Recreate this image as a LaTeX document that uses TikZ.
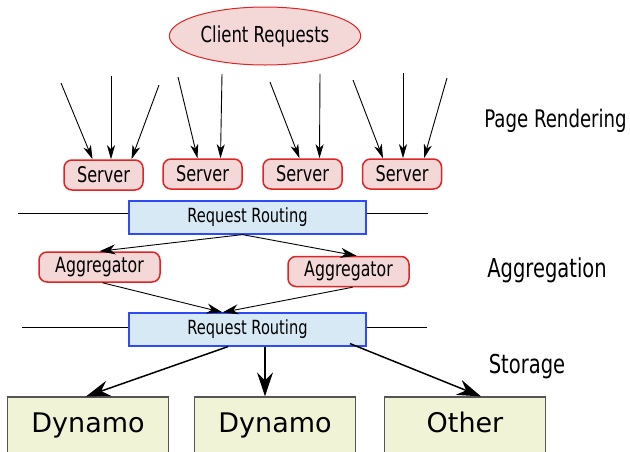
\documentclass[tikz,border=0pt]{standalone}
\usepackage{fontspec}
\setmainfont{DejaVu Sans}
\newfontfamily\narrowfont[FakeStretch=0.75]{DejaVu Sans}
\usetikzlibrary{
  positioning,
  arrows.meta,
  shapes.geometric
}
\definecolor{pinkfill}{HTML}{F4D7D7}
\definecolor{redline}{HTML}{E02424}
\definecolor{bluefill}{HTML}{D7E9F4}
\definecolor{blueline}{HTML}{2E4BF5}
\definecolor{olivefill}{HTML}{F1F3D7}
\definecolor{greyline}{HTML}{555555}

\begin{document}
\begin{tikzpicture}[x=1pt,y=-1pt]
			\tikzset{
			srv/.style={
					rectangle, draw=redline, fill=pinkfill, line width=1.5pt,
					minimum height=30pt, minimum width=79pt, inner sep=0pt,
					rounded corners=8pt, font=\narrowfont\fontsize{21.5}{23}\selectfont,
				},
			agg/.style={srv, minimum width=121pt, font=\narrowfont\fontsize{21}{23}\selectfont},
			route/.style={
					rectangle, draw=blueline, fill=bluefill, line width=1.2pt,
					minimum height=33pt, minimum width=237pt, inner sep=0pt,
					font=\narrowfont\fontsize{19.5}{22}\selectfont,
				},
			store/.style={
					rectangle, draw=greyline, fill=olivefill, line width=1.2pt,
					minimum height=62pt, minimum width=161pt, inner sep=0pt,
					text height=20pt, text depth=12pt,
					font=\fontsize{27}{30}\selectfont,
				},
			tier/.style={font=\narrowfont\fontsize{26}{28}\selectfont},
			rel/.style={
			->, >={Stealth[length=14pt, width=8pt, inset=4pt]}, line width=0.9pt, },
			midrel/.style={
			rel, >={Stealth[length=16pt, width=10pt, inset=5pt]}, },
			bigrel/.style={
			rel, >={Stealth[length=24pt, width=16pt, inset=8pt]}, line width=1.5pt, },
			}
			\useasboundingbox (0,0) rectangle (630,451);
			\node[ellipse, draw=redline, fill=pinkfill, line width=1pt,
				minimum width=190pt, minimum height=58pt,
				font=\narrowfont\fontsize{22}{24}\selectfont] (client) at (265,36) {Client Requests};

			% page rendering
			\node[srv] (srvA) at (103.5,175) {Server};
			\node[srv] (srvB) at (202.5,174) {Server};
			\node[srv] (srvC) at (302.5,174) {Server};
			\node[srv] (srvD) at (402,174) {Server};

			\coordinate (inA1) at (61,83);
			\coordinate (inA2) at (111,76);
			\coordinate (inA3) at (159,85);
			\coordinate (inB1) at (178,77);
			\coordinate (inB2) at (222,74);
			\coordinate (inC1) at (270,82);
			\coordinate (inC2) at (320,74);
			\coordinate (inD1) at (353,80);
			\coordinate (inD2) at (403,73);
			\coordinate (inD3) at (447,78);

			\draw[rel] (inA1) -- ([xshift=-11pt]srvA.north);
			\draw[rel] (inA2) -- ([xshift=7.5pt]srvA.north);
			\draw[rel] (inA3) -- ([xshift=28pt]srvA.north);
			\draw[rel] (inB1) -- ([xshift=-5pt]srvB.north);
			\draw[rel] (inB2) -- ([xshift=18pt]srvB.north);
			\draw[rel] (inC1) -- ([xshift=-3pt]srvC.north);
			\draw[rel] (inC2) -- ([xshift=17pt]srvC.north);
			\draw[rel] (inD1) -- ([xshift=-19pt]srvD.north);
			\draw[rel] (inD2) -- ([xshift=1pt]srvD.north);
			\draw[rel] (inD3) -- ([xshift=22pt]srvD.north);

			% aggregation
			\node[route] (routeTop) at (247.5,217.5) {Request Routing};
			\coordinate (edgeTopL) at (18,213);
			\coordinate (edgeTopR) at (428,213);
			\draw[line width=1pt] (routeTop.west |- edgeTopL) -- (edgeTopL);
			\draw[line width=1pt] (routeTop.east |- edgeTopR) -- (edgeTopR);

			\node[agg] (aggL) at (99.5,267) {Aggregator};
			\node[agg] (aggR) at (348.5,271.5) {Aggregator};

			\draw[midrel] ([xshift=-5pt]routeTop.south) -- ([xshift=0pt]aggL.north);
			\draw[midrel] ([xshift=-5pt]routeTop.south) -- ([xshift=8pt]aggR.north);

			% storage
			\node[route] (routeBot) at (247.5,329.5) {Request Routing};
			\coordinate (edgeBotL) at (22,327);
			\coordinate (edgeBotR) at (427,327);
			\draw[line width=1pt] (routeBot.west |- edgeBotL) -- (edgeBotL);
			\draw[line width=1pt] (routeBot.east |- edgeBotR) -- (edgeBotR);

			\draw[midrel] ([xshift=3pt]aggL.south) -- ([xshift=-25pt]routeBot.north);
			\draw[midrel] ([xshift=4pt]aggR.south) -- ([xshift=-25pt]routeBot.north);

			\node[store] (dynA) at (88,428) {Dynamo};
			\node[store] (dynB) at (275,428) {Dynamo};
			\node[store] (other) at (465,428) {Other};

			\draw[bigrel] ([xshift=-19.5pt]routeBot.south) -- ([xshift=-2pt]dynA.north);
			\draw[bigrel] ([xshift=17.5pt]routeBot.south) -- ([xshift=-10pt]dynB.north);
			\draw[bigrel] ([xshift=102.5pt,yshift=3pt]routeBot.south) -- ([xshift=16pt]other.north);

			% tier labels
			\node[tier, font=\narrowfont\fontsize{24.2}{27}\selectfont] (lblRender) at (555.5,121) {Page Rendering};
			\node[tier] (lblAgg) at (547,270) {Aggregation};
			\node[tier] (lblStore) at (527,367) {Storage};
		\end{tikzpicture}
\end{document}
